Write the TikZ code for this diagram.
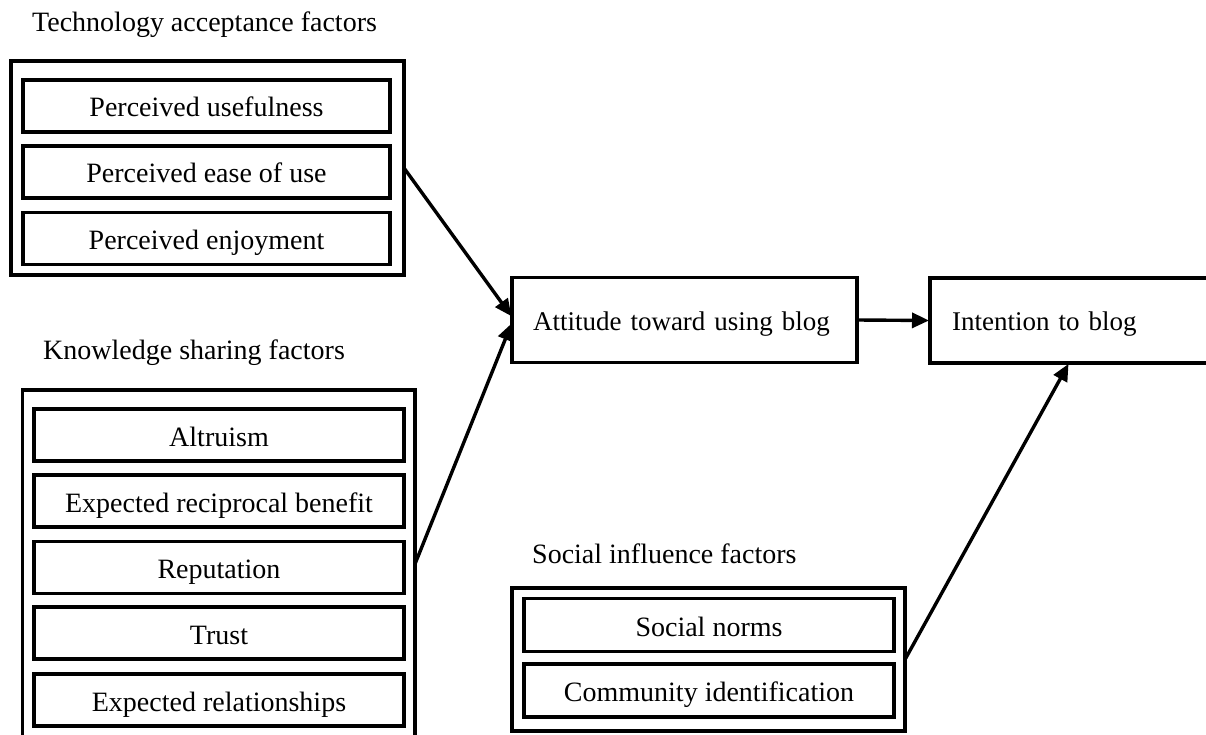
\documentclass[tikz,border=0pt]{standalone}
\usepackage{fontspec}
\setmainfont{Liberation Serif}
\usetikzlibrary{arrows.meta}
\begin{document}
\begin{tikzpicture}[x=1pt,y=-1pt,
  txt/.style={font=\fontsize{28}{33}\selectfont},
  frame/.style={draw, line width=3.4pt, inner sep=0pt, outer sep=0pt},
  item/.style={draw, line width=3.6pt, inner sep=0pt, outer sep=0pt, txt,
    text height=22pt, text depth=0pt, minimum height=52pt},
  stage/.style={draw, line width=3.4pt, inner ysep=0pt, outer sep=0pt,
    font=\fontsize{27}{32}\selectfont,
    align=left, text height=20pt, text depth=0pt, minimum height=85pt},
  heading/.style={anchor=base west, inner sep=0pt, txt},
  link/.style={line width=3.4pt, shorten >=1pt, -{Triangle[length=17pt,width=15pt]}}]
\clip (0,0) rectangle (1206,735);
\fill[white] (0,0) rectangle (1206,735);

% Technology acceptance factors
\node[heading] (tah) at (32,32) {Technology acceptance factors};
\node[frame, minimum width=393pt, minimum height=214pt] (ta) at (207.5,168) {};
\node[item, minimum width=367pt] (pu) at (206.5,106) {Perceived usefulness};
\node[item, minimum width=367pt] (pe) at (206.5,172) {Perceived ease of use};
\node[item, minimum width=367pt] (pj) at (206.5,238.5) {Perceived enjoyment};

% Knowledge sharing factors
\node[heading] (ksh) at (43,359) {Knowledge sharing factors};
\node[frame, minimum width=392.5pt, minimum height=348pt] (ks) at (218.75,564) {};
\node[item, minimum width=370pt] (al) at (219,435) {Altruism};
\node[item, minimum width=370pt] (rb) at (219,501) {Expected reciprocal benefit};
\node[item, minimum width=370pt] (rp) at (219,567.5) {Reputation};
\node[item, minimum width=370pt] (tr) at (219,633) {Trust};
\node[item, minimum width=370pt] (er) at (219,700) {Expected relationships};

% Social influence factors
\node[heading] (sih) at (532,563) {Social influence factors};
\node[frame, minimum width=393pt, minimum height=143pt] (soc) at (708.5,659.5) {};
\node[item, minimum width=370pt, minimum height=53pt] (sn) at (709,625) {Social norms};
\node[item, minimum width=370pt, minimum height=53pt] (ci) at (709,690.5) {Community identification};

% Attitude and intention
\node[stage, inner xsep=21pt, text width=303pt] (att) at (684.5,320) {Attitude toward using blog};
\node[stage, inner xsep=22pt, text width=234pt] (int) at (1069,320.5) {Intention to blog};

% Paths
\draw[link] (ta.east) -- ([yshift=3pt]att.west);
\draw[link] (ks.east) -- ([yshift=-2.5pt]att.west);
\draw[link] (att.east) -- (int.west);
\draw[link] (soc.east) -- (int.south);
\end{tikzpicture}
\end{document}
